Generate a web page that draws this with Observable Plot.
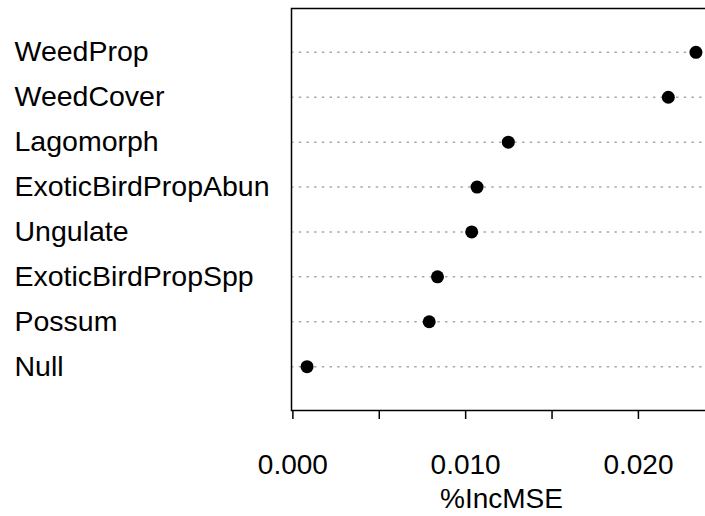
<!DOCTYPE html>
<html>
<head>
<meta charset="utf-8">
<script src="https://cdn.jsdelivr.net/npm/d3@7"></script>
<script src="https://cdn.jsdelivr.net/npm/@observablehq/plot@0.6"></script>
<style>
  html, body { margin: 0; padding: 0; background: white; overflow: hidden; }
  #chart svg { overflow: hidden; display: block; }
</style>
</head>
<body>
<div id="chart"></div>
<script>
const variables = ["WeedProp", "WeedCover", "Lagomorph", "ExoticBirdPropAbun", "Ungulate", "ExoticBirdPropSpp", "Possum", "Null"];
const incMSE = [0.02333, 0.02173, 0.01247, 0.01066, 0.01035, 0.00837, 0.00789, 0.00082];
const tickValues = [0, 0.005, 0.010, 0.015, 0.020];
const tickLabels = [0, 0.010, 0.020];
const axisTitle = "%IncMSE";

const data = variables.map((v, i) => ({name: v, value: incMSE[i]}));

const chart = Plot.plot({
  width: 705,
  height: 516,
  marginLeft: 291,
  marginRight: -6,
  marginTop: 8,
  marginBottom: 106,
  style: {fontFamily: "'Liberation Sans', Arial, sans-serif", fontSize: "28px", color: "black", background: "white", maxWidth: "none"},
  x: {domain: [-0.00008, 0.02423]},
  y: {domain: variables, type: "point", padding: 0.976, round: false},
  marks: [
    Plot.ruleY(data, {y: "name", stroke: "#aaa", strokeWidth: 1.5, strokeDasharray: "2.5,5.2"}),
    Plot.frame({stroke: "black", strokeWidth: 1.5}),
    Plot.axisY({anchor: "left", tickSize: 0, tickPadding: 0, textAnchor: "start", dx: -277, fontSize: 28.5, label: null}),
    Plot.axisX({ticks: tickValues, tickSize: 9, strokeWidth: 1.5, tickFormat: () => "", label: null}),
    Plot.axisX({ticks: tickLabels, tickSize: 0, tickPadding: 44, tickFormat: d => d.toFixed(3), fontSize: 28, label: null}),
    Plot.text([axisTitle], {frameAnchor: "bottom", dy: 89, lineAnchor: "middle", fontSize: 28, fill: "black"}),
    Plot.dot(data, {x: "value", y: "name", r: 6.5, fill: "black", stroke: "none"})
  ]
});
document.getElementById("chart").appendChild(chart);
</script>
</body>
</html>
